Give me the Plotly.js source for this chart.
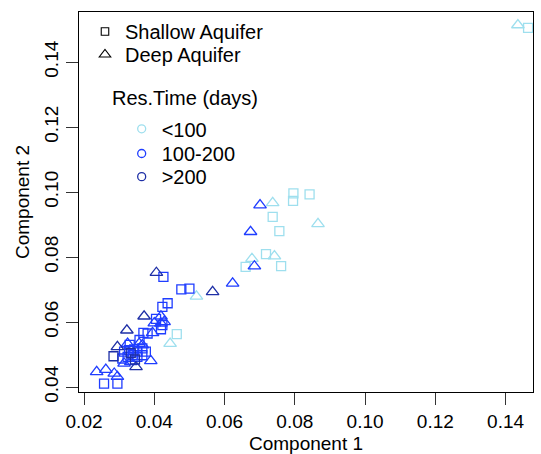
<!DOCTYPE html>
<html>
<head>
<meta charset="utf-8">
<script src="https://cdn.plot.ly/plotly-3.0.1.min.js"></script>
<style>html,body{margin:0;padding:0;background:#fff;}#chart{width:541px;height:454px;}</style>
</head>
<body>
<div id="chart"></div>
<script>
// ---- Data (Component 1 = x, Component 2 = y) ----
// Shallow aquifer (squares)
const shallowLowX  = [0.0796, 0.0795, 0.0842, 0.0737, 0.0756, 0.0718, 0.0660, 0.0761, 0.0464, 0.1464];
const shallowLowY  = [0.0996, 0.0973, 0.0993, 0.0924, 0.0880, 0.0809, 0.0770, 0.0772, 0.0563, 0.1505];
const shallowMidX  = [0.0426, 0.0477, 0.0500, 0.0423, 0.0438, 0.0419, 0.0423, 0.0369, 0.0381, 0.0257,
                      0.0314, 0.0328, 0.0343, 0.0352, 0.0366, 0.0376, 0.0309, 0.0324, 0.0338, 0.0352,
                      0.0366, 0.0295, 0.0405, 0.0330, 0.0358];
const shallowMidY  = [0.0739, 0.0701, 0.0703, 0.0647, 0.0658, 0.0578, 0.0591, 0.0567, 0.0565, 0.0411,
                      0.0509, 0.0514, 0.0516, 0.0509, 0.0519, 0.0509, 0.0488, 0.0493, 0.0498, 0.0493,
                      0.0498, 0.0411, 0.0610, 0.0530, 0.0545];
const shallowHighX = [0.0284, 0.0333, 0.0345];
const shallowHighY = [0.0495, 0.0505, 0.0485];
// Deep aquifer (triangles)
const deepLowX  = [0.0737, 0.0866, 0.0742, 0.0678, 0.0520, 0.0445, 0.1435];
const deepLowY  = [0.0967, 0.0902, 0.0803, 0.0795, 0.0679, 0.0534, 0.1514];
const deepMidX  = [0.0701, 0.0674, 0.0685, 0.0623, 0.0419, 0.0419, 0.0428, 0.0400, 0.0395, 0.0390,
                   0.0236, 0.0262, 0.0295, 0.0286, 0.0324, 0.0357, 0.0366, 0.0314, 0.0333];
const deepMidY  = [0.0960, 0.0878, 0.0772, 0.0719, 0.0618, 0.0596, 0.0601, 0.0597, 0.0567, 0.0481,
                   0.0447, 0.0454, 0.0432, 0.0442, 0.0534, 0.0534, 0.0529, 0.0473, 0.0478];
const deepHighX = [0.0406, 0.0566, 0.0371, 0.0322, 0.0295, 0.0348];
const deepHighY = [0.0752, 0.0693, 0.0618, 0.0575, 0.0524, 0.0462];

const xTicks = [0.02, 0.04, 0.06, 0.08, 0.10, 0.12, 0.14];
const yTicks = [0.04, 0.06, 0.08, 0.10, 0.12, 0.14];
const resClasses = ['<100', '100-200', '>200'];
const aquiferNames = ['Shallow Aquifer', 'Deep Aquifer'];

// ---- Styles ----
const colLow = '#9EDFEE', colMid = '#1F3DFF', colHigh = '#1E2FA6';
const FONT = 'Liberation Sans, Arial, Helvetica, sans-serif';
const SQ = 9, TR = 11, LW = 1.3;

function pts(x, y, symbol, size, color) {
  return {x: x, y: y, type: 'scatter', mode: 'markers', showlegend: false, hoverinfo: 'x+y',
    marker: {symbol: symbol, size: size, color: color, line: {width: LW, color: color}}};
}
const traces = [
  pts(shallowLowX, shallowLowY, 'square-open', SQ, colLow),
  pts(deepLowX, deepLowY, 'triangle-up-open', TR, colLow),
  pts(shallowMidX, shallowMidY, 'square-open', SQ, colMid),
  pts(deepMidX, deepMidY, 'triangle-up-open', TR, colMid),
  pts(shallowHighX, shallowHighY, 'square-open', SQ, colHigh),
  pts(deepHighX, deepHighY, 'triangle-up-open', TR, colHigh)
];
// legend entries (one legend box per row so rows sit where the reference has them)
const legSyms = ['square-open', 'triangle-up-open'];
const legIds = ['legend', 'legend2', 'legend3', 'legend4', 'legend5'];
aquiferNames.forEach((n, i) => traces.push({x: [null], y: [null], type: 'scatter', mode: 'markers', name: n,
  legend: legIds[i], marker: {symbol: legSyms[i], size: i === 0 ? 7.5 : 10, color: 'black', line: {width: 1.1, color: 'black'}}}));
[colLow, colMid, colHigh].forEach((c, i) => traces.push({x: [null], y: [null], type: 'scatter', mode: 'markers',
  name: resClasses[i], legend: legIds[i + 2], marker: {symbol: 'circle-open', size: 8, color: c, line: {width: 1.3, color: c}}}));

const axisCommon = {
  showgrid: false, zeroline: false, showline: true, mirror: true, linecolor: '#000', linewidth: 1,
  ticks: 'outside', ticklen: 12, tickwidth: 1, tickcolor: '#333',
  tickfont: {family: FONT, size: 19, color: '#000'}, tickformat: '.2f', automargin: false
};
function leg(x, y) {
  return {x: x, y: y, xanchor: 'left', yanchor: 'top', bgcolor: 'rgba(0,0,0,0)', borderwidth: 0,
    font: {family: FONT, size: 20, color: '#000'}, itemclick: false, itemdoubleclick: false};
}
const layout = {
  width: 541, height: 454,
  margin: {l: 79, r: 8, t: 12, b: 62},
  paper_bgcolor: '#fff', plot_bgcolor: '#fff',
  font: {family: FONT, color: '#000'},
  xaxis: Object.assign({}, axisCommon, {range: [0.01857, 0.1478], tickvals: xTicks,
    title: {text: 'Component 1', font: {family: FONT, size: 19, color: '#000'}, standoff: 13}}),
  yaxis: Object.assign({}, axisCommon, {range: [0.0385, 0.1554], tickvals: yTicks, tickangle: -90,
    title: {text: 'Component 2', font: {family: FONT, size: 19, color: '#000'}, standoff: 6}}),
  legend:  leg(0.0132, 1.0),
  legend2: leg(0.0132, 0.9395),
  legend3: leg(0.094, 0.744),
  legend4: leg(0.094, 0.679),
  legend5: leg(0.094, 0.618),
  annotations: [{text: 'Res.Time (days)', xref: 'paper', yref: 'paper', x: 0.068, y: 0.774,
    xanchor: 'left', yanchor: 'middle', showarrow: false, font: {family: FONT, size: 20, color: '#000'}}]
};
Plotly.newPlot('chart', traces, layout, {displayModeBar: false, staticPlot: true});
</script>
</body>
</html>
